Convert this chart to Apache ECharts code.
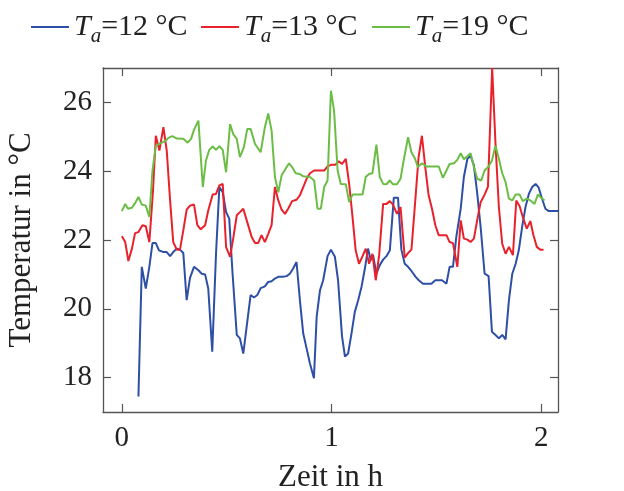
<!DOCTYPE html>
<html><head><meta charset="utf-8">
<script src="https://cdn.jsdelivr.net/npm/echarts@6/dist/echarts.min.js"></script>
<style>html,body{margin:0;padding:0;background:#fff}#c{width:624px;height:491px}</style>
</head><body><div id="c"></div>
<script>
// time in h, temperature in °C
const seriesNames = ['T_a=12 °C', 'T_a=13 °C', 'T_a=19 °C'];
const xTickValues = [0, 1, 2];
const yTickValues = [18, 20, 22, 24, 26];

const data12 = [[0.079,17.45],[0.095,21.22],[0.114,20.59],[0.131,21.22],[0.146,21.91],[0.162,21.91],[0.177,21.70],[0.198,21.65],[0.214,21.65],[0.230,21.53],[0.245,21.65],[0.262,21.75],[0.277,21.72],[0.293,21.62],[0.309,20.25],[0.325,20.90],[0.344,21.22],[0.365,21.12],[0.381,21.02],[0.397,21.00],[0.412,20.59],[0.431,18.75],[0.449,21.60],[0.465,23.54],[0.481,23.39],[0.497,22.81],[0.512,22.62],[0.528,21.02],[0.548,19.24],[0.563,19.14],[0.579,18.70],[0.598,19.62],[0.614,20.40],[0.630,20.33],[0.646,20.40],[0.662,20.60],[0.682,20.65],[0.698,20.78],[0.714,20.80],[0.730,20.88],[0.746,20.93],[0.767,20.93],[0.786,20.95],[0.801,21.02],[0.817,21.17],[0.833,21.36],[0.849,20.25],[0.865,19.28],[0.881,18.85],[0.897,18.41],[0.916,17.98],[0.929,19.77],[0.945,20.54],[0.960,20.83],[0.981,21.53],[0.997,21.72],[1.016,21.51],[1.031,20.83],[1.050,19.20],[1.064,18.61],[1.079,18.70],[1.095,19.28],[1.111,19.91],[1.127,20.25],[1.143,20.64],[1.159,21.17],[1.174,21.75],[1.187,21.41],[1.198,21.56],[1.214,21.02],[1.230,21.27],[1.246,21.43],[1.262,21.53],[1.278,21.70],[1.297,23.23],[1.317,23.23],[1.333,21.72],[1.349,21.31],[1.365,21.22],[1.381,21.10],[1.402,20.92],[1.416,20.83],[1.436,20.73],[1.452,20.73],[1.476,20.73],[1.495,20.83],[1.511,20.83],[1.527,20.83],[1.548,20.73],[1.563,21.22],[1.579,21.22],[1.595,22.09],[1.616,22.91],[1.631,23.83],[1.648,24.36],[1.663,24.45],[1.679,24.17],[1.695,23.34],[1.711,22.38],[1.730,21.02],[1.749,20.95],[1.765,19.33],[1.782,19.24],[1.798,19.14],[1.814,19.24],[1.830,19.11],[1.846,20.25],[1.862,21.02],[1.878,21.31],[1.893,21.70],[1.909,22.38],[1.925,22.96],[1.941,23.34],[1.957,23.54],[1.973,23.63],[1.988,23.52],[2.004,23.20],[2.020,22.91],[2.036,22.84],[2.090,22.84]];

const data13 = [[0.000,22.11],[0.016,21.94],[0.031,21.39],[0.048,21.75],[0.063,22.20],[0.079,22.23],[0.098,22.43],[0.114,22.40],[0.131,21.94],[0.148,23.39],[0.162,25.03],[0.179,24.60],[0.198,25.28],[0.214,24.60],[0.230,23.15],[0.245,21.94],[0.262,21.72],[0.277,21.72],[0.293,22.28],[0.309,22.88],[0.325,23.00],[0.344,23.03],[0.360,22.43],[0.376,22.31],[0.397,22.43],[0.412,22.86],[0.433,23.32],[0.449,23.34],[0.465,23.59],[0.481,23.63],[0.497,21.80],[0.516,21.51],[0.531,22.04],[0.548,22.72],[0.563,22.81],[0.579,22.91],[0.598,22.52],[0.619,22.09],[0.635,21.91],[0.650,21.91],[0.666,22.14],[0.682,21.94],[0.698,22.18],[0.714,22.43],[0.730,23.54],[0.746,23.15],[0.762,22.88],[0.778,22.76],[0.793,22.91],[0.812,23.13],[0.833,23.17],[0.849,23.30],[0.865,23.54],[0.881,23.78],[0.897,23.94],[0.917,24.02],[0.936,24.02],[0.965,24.02],[0.981,24.14],[1.000,24.19],[1.019,24.19],[1.034,24.29],[1.050,24.21],[1.068,24.36],[1.084,23.63],[1.100,22.67],[1.115,21.70],[1.131,21.31],[1.148,21.53],[1.163,21.75],[1.179,21.31],[1.195,21.60],[1.211,20.83],[1.227,21.56],[1.246,23.05],[1.262,23.05],[1.278,23.13],[1.293,23.03],[1.312,22.76],[1.329,22.96],[1.349,21.49],[1.365,21.62],[1.381,21.72],[1.397,22.96],[1.415,24.40],[1.431,25.03],[1.447,24.12],[1.463,23.30],[1.479,22.91],[1.495,22.43],[1.511,22.14],[1.527,22.14],[1.548,22.14],[1.563,21.94],[1.579,21.91],[1.600,21.22],[1.616,22.57],[1.631,22.04],[1.648,22.01],[1.663,21.94],[1.679,22.04],[1.695,22.59],[1.711,23.10],[1.730,23.32],[1.746,23.55],[1.766,27.00],[1.782,24.79],[1.798,22.96],[1.814,21.89],[1.830,21.60],[1.846,21.80],[1.865,21.56],[1.881,23.15],[1.897,22.98],[1.912,22.67],[1.931,22.33],[1.948,22.55],[1.963,22.14],[1.979,21.80],[1.995,21.72],[2.011,21.72]];

const data19 = [[0.000,22.84],[0.016,23.05],[0.029,22.91],[0.048,22.94],[0.063,23.07],[0.079,23.25],[0.095,23.03],[0.114,23.00],[0.131,22.67],[0.146,24.02],[0.162,24.74],[0.182,24.81],[0.206,24.87],[0.222,24.97],[0.241,25.02],[0.262,24.95],[0.293,24.94],[0.314,24.83],[0.330,24.94],[0.344,25.20],[0.365,25.47],[0.386,23.54],[0.401,24.31],[0.417,24.62],[0.433,24.72],[0.449,24.62],[0.465,24.73],[0.481,24.62],[0.497,23.97],[0.516,25.37],[0.531,25.08],[0.548,24.94],[0.563,24.41],[0.582,24.70],[0.598,25.23],[0.614,25.23],[0.635,24.79],[0.662,24.55],[0.682,25.28],[0.698,25.68],[0.714,25.18],[0.730,23.83],[0.746,23.39],[0.762,23.88],[0.778,24.04],[0.797,24.23],[0.812,24.12],[0.829,23.94],[0.849,23.92],[0.865,23.85],[0.897,23.83],[0.917,23.73],[0.933,22.91],[0.949,22.91],[0.965,23.54],[0.981,23.73],[0.997,26.34],[1.012,25.76],[1.029,24.02],[1.044,23.63],[1.068,23.62],[1.084,23.10],[1.100,23.32],[1.119,23.32],[1.148,23.32],[1.163,23.83],[1.179,23.92],[1.195,23.94],[1.214,24.77],[1.230,23.83],[1.246,23.63],[1.262,23.62],[1.278,23.73],[1.293,23.62],[1.312,23.62],[1.329,23.78],[1.344,24.31],[1.365,24.99],[1.381,24.55],[1.397,24.38],[1.412,24.12],[1.431,24.23],[1.452,24.14],[1.511,24.14],[1.531,23.81],[1.548,24.02],[1.563,24.21],[1.584,24.23],[1.600,24.33],[1.616,24.52],[1.631,24.35],[1.648,24.43],[1.663,24.52],[1.679,24.12],[1.695,23.78],[1.714,23.73],[1.730,24.02],[1.749,24.14],[1.765,24.31],[1.782,24.74],[1.798,24.36],[1.814,23.94],[1.830,23.68],[1.846,23.20],[1.862,23.15],[1.878,23.32],[1.897,23.32],[1.912,23.13],[1.931,23.20],[1.948,23.15],[1.968,23.05],[1.984,23.32],[2.000,23.23],[2.016,23.15]];

const colors = ['#2e4fa6', '#e8212b', '#6cbd45'];
const FONT = 'Liberation Serif';
const axisColor = '#555';

const chart = echarts.init(document.getElementById('c'), null, {renderer: 'canvas'});

function legendFor(i, left) {
  const parts = seriesNames[i].split('=');
  return {
    data: [seriesNames[i]],
    left: left, top: 12, padding: 0,
    icon: 'rect', itemWidth: 38, itemHeight: 2, itemGap: 0,
    formatter: function () {
      return '{t|T}{s|a}{n|=' + parts[1] + '}';
    },
    textStyle: {
      fontFamily: FONT, color: '#222', fontSize: 30, padding: [0, 0, 0, 0],
      rich: {
        t: {fontFamily: FONT, fontStyle: 'italic', fontSize: 30, color: '#222'},
        s: {fontFamily: FONT, fontStyle: 'italic', fontSize: 21, color: '#222', padding: [18, 0, 0, 0]},
        n: {fontFamily: FONT, fontSize: 30, color: '#222'}
      }
    }
  };
}

const hiddenAxisCommon = {
  axisLabel: {show: false}, splitLine: {show: false}
};

chart.setOption({
  animation: false,
  backgroundColor: '#fff',
  color: colors,
  legend: [legendFor(0, 31), legendFor(1, 201), legendFor(2, 372)],
  grid: {left: 103, right: 66, top: 68, bottom: 79, containLabel: false, outerBoundsMode: 'none'},
  xAxis: [{
    type: 'value', min: -0.09, max: 2.08, position: 'bottom',
    name: 'Zeit in h', nameLocation: 'middle', nameGap: 50,
    nameTextStyle: {fontFamily: FONT, fontSize: 31, color: '#222'},
    axisLine: {show: true, onZero: false, lineStyle: {color: axisColor, width: 1.3}},
    axisTick: {show: true, inside: true, length: 8, customValues: xTickValues, lineStyle: {color: axisColor, width: 1.2}},
    axisLabel: {customValues: xTickValues, fontFamily: FONT, fontSize: 29, color: '#222', margin: 12},
    splitLine: {show: false}
  }, Object.assign({
    type: 'value', min: -0.09, max: 2.08, position: 'top',
    axisLine: {show: true, onZero: false, lineStyle: {color: axisColor, width: 1.3}},
    axisTick: {show: true, inside: true, length: 8, customValues: xTickValues, lineStyle: {color: axisColor, width: 1.2}}
  }, hiddenAxisCommon)],
  yAxis: [{
    type: 'value', min: 17, max: 27, position: 'left',
    name: 'Temperatur in °C', nameLocation: 'middle', nameGap: 66, nameRotate: 90,
    nameTextStyle: {fontFamily: FONT, fontSize: 31, color: '#222'},
    axisLine: {show: true, onZero: false, lineStyle: {color: axisColor, width: 1.3}},
    axisTick: {show: true, inside: true, length: 8, customValues: yTickValues, lineStyle: {color: axisColor, width: 1.2}},
    axisLabel: {customValues: yTickValues, fontFamily: FONT, fontSize: 29, color: '#222', margin: 11},
    splitLine: {show: false}
  }, Object.assign({
    type: 'value', min: 17, max: 27, position: 'right',
    axisLine: {show: true, onZero: false, lineStyle: {color: axisColor, width: 1.3}},
    axisTick: {show: true, inside: true, length: 8, customValues: yTickValues, lineStyle: {color: axisColor, width: 1.2}}
  }, hiddenAxisCommon)],
  series: [data12, data13, data19].map(function (d, i) {
    return {
      name: seriesNames[i], type: 'line', data: d, xAxisIndex: 0, yAxisIndex: 0,
      showSymbol: false, symbol: 'none', clip: true,
      lineStyle: {width: 2, color: colors[i]}, itemStyle: {color: colors[i]}
    };
  })
});
</script>
</body></html>
